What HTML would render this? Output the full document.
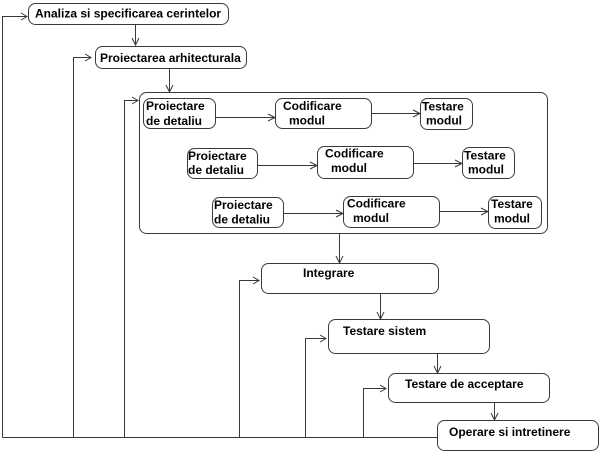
<!DOCTYPE html>
<html><head><meta charset="utf-8">
<style>
html,body{margin:0;padding:0;background:#fff;}
svg{display:block;}
text{font-family:"Liberation Sans",Arial,sans-serif;font-weight:bold;font-size:12px;fill:#000;}
</style></head>
<body>
<svg width="601" height="455" viewBox="0 0 601 455" xmlns="http://www.w3.org/2000/svg">
<g fill="none" stroke="#3a3a3a" stroke-width="1">
<!-- boxes -->
<rect x="28.5" y="3.5" width="200" height="21" rx="7"/>
<rect x="95.5" y="46.5" width="151" height="22" rx="7"/>
<rect x="139.5" y="92.5" width="408" height="141" rx="7"/>
<rect x="143.5" y="98.5" width="72" height="30" rx="7"/>
<rect x="275.5" y="98.5" width="96" height="30" rx="7"/>
<rect x="420.5" y="98.5" width="52" height="31" rx="7"/>
<rect x="187.5" y="148.5" width="70" height="30" rx="7"/>
<rect x="317.5" y="146.5" width="96" height="32" rx="7"/>
<rect x="462.5" y="147.5" width="52" height="31" rx="7"/>
<rect x="212.5" y="197.5" width="71" height="30" rx="7"/>
<rect x="343.5" y="196.5" width="96" height="31" rx="7"/>
<rect x="488.5" y="196.5" width="53" height="32" rx="7"/>
<rect x="261.5" y="263.5" width="177" height="30" rx="7"/>
<rect x="328.5" y="319.5" width="161" height="34" rx="7"/>
<rect x="388.5" y="373.5" width="161" height="29" rx="7"/>
<rect x="437.5" y="420.5" width="161" height="30" rx="7"/>

<!-- bottom line -->
<path d="M2.5 437.5 H437"/>
<!-- feedback lines -->
<path d="M2.5 437.5 V16.5 H27 M21 13 L27 16.5 L21 20"/>
<path d="M73.5 437.5 V57.5 H91 M85 54 L91 57.5 L85 61"/>
<path d="M124.5 437.5 V100.5 H138 M132 97 L138 100.5 L132 104"/>
<path d="M239.5 437.5 V280.5 H259 M253 277 L259 280.5 L253 284"/>
<path d="M305.5 437.5 V338.5 H326 M320 335 L326 338.5 L320 342"/>
<path d="M363.5 437.5 V388.5 H386 M380 385 L386 388.5 L380 392"/>

<!-- down arrows -->
<path d="M135.5 24 V45 M132 38 L135.5 45 L139 38"/>
<path d="M169.5 68 V92 M166 85 L169.5 92 L173 85"/>
<path d="M339.5 233 V263 M336 256 L339.5 263 L343 256"/>
<path d="M380.5 293 V319 M377 312 L380.5 319 L384 312"/>
<path d="M437.5 353 V373 M434 366 L437.5 373 L441 366"/>
<path d="M494.5 402 V420 M491 413 L494.5 420 L498 413"/>

<!-- inner arrows -->
<path d="M215 117.5 H275 M268 114 L275 117.5 L268 121"/>
<path d="M371 113.5 H420 M413 110 L420 113.5 L413 117"/>
<path d="M257 165.5 H317 M310 162 L317 165.5 L310 169"/>
<path d="M413 163.5 H462 M455 160 L462 163.5 L455 167"/>
<path d="M283 213.5 H343 M336 210 L343 213.5 L336 217"/>
<path d="M439 211.5 H488 M481 208 L488 211.5 L481 215"/>
</g>

<text x="35" y="17.5">Analiza si specificarea cerintelor</text>
<text x="100" y="62">Proiectarea arhitecturala</text>

<text x="146" y="110">Proiectare</text>
<text x="146" y="125">de detaliu</text>
<text x="283" y="110">Codificare</text>
<text x="289" y="124.5">modul</text>
<text x="422" y="110.5">Testare</text>
<text x="426" y="124.5">modul</text>

<text x="188" y="160">Proiectare</text>
<text x="188" y="174">de detaliu</text>
<text x="325" y="157.5">Codificare</text>
<text x="331" y="172">modul</text>
<text x="464" y="159.5">Testare</text>
<text x="468" y="173.5">modul</text>

<text x="214" y="209">Proiectare</text>
<text x="214" y="223.5">de detaliu</text>
<text x="347" y="207.5">Codificare</text>
<text x="353" y="222">modul</text>
<text x="491" y="208">Testare</text>
<text x="494" y="222.5">modul</text>

<text x="303" y="277">Integrare</text>
<text x="343" y="335">Testare sistem</text>
<text x="405" y="388">Testare de acceptare</text>
<text x="449" y="436">Operare si intretinere</text>
</svg>
</body></html>
